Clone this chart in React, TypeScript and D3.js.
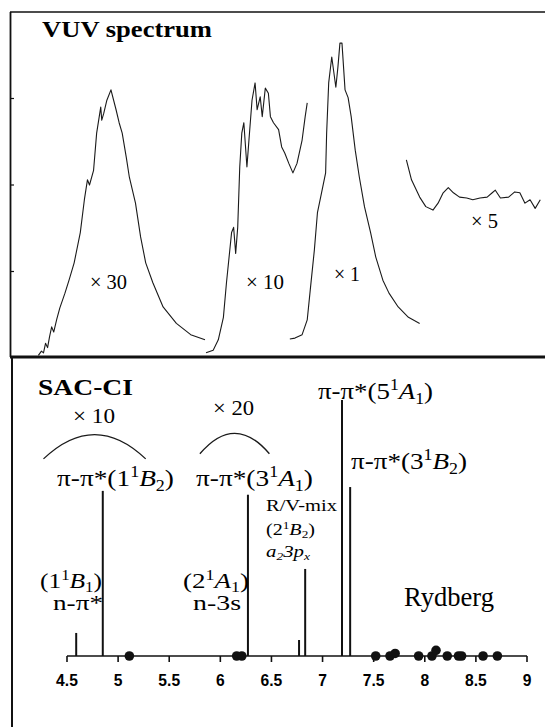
import { scaleLinear, line as d3line, path as d3path } from "d3";

const W = 545;
const H = 727;
const SERIF = "'Liberation Serif', 'Times New Roman', serif";
const SANS = "'Liberation Sans', Arial, sans-serif";

// VUV spectrum segments: [energy eV, relative intensity]
const vuvX30: [number, number][] = [
  [4.22, 0.03], [4.25, 0.08], [4.27, 0.06], [4.29, 0.17], [4.31, 0.12], [4.33, 0.25], [4.35, 0.36],
  [4.37, 0.3], [4.4, 0.45], [4.43, 0.58], [4.48, 0.75], [4.52, 0.9], [4.57, 1.1], [4.63, 1.45],
  [4.67, 1.83], [4.7, 2.06], [4.72, 2.0], [4.76, 2.17], [4.79, 2.6], [4.83, 2.9], [4.84, 2.75],
  [4.86, 2.83], [4.89, 2.98], [4.93, 3.1], [4.98, 2.87], [5.01, 2.72], [5.04, 2.6], [5.08, 2.32],
  [5.11, 2.09], [5.17, 1.79], [5.22, 1.4], [5.27, 1.1], [5.34, 0.87], [5.44, 0.59], [5.57, 0.4],
  [5.71, 0.27], [5.85, 0.21],
];
const vuvX10: [number, number][] = [
  [5.86, 0.06], [5.93, 0.09], [5.98, 0.21], [6.03, 0.47], [6.06, 0.87], [6.11, 1.45], [6.13, 1.51],
  [6.15, 1.21], [6.17, 1.51], [6.19, 2.21], [6.21, 2.6], [6.23, 2.72], [6.26, 2.21], [6.28, 2.52],
  [6.31, 2.98], [6.34, 3.18], [6.36, 2.87], [6.39, 3.02], [6.41, 2.79], [6.44, 3.12], [6.47, 3.06],
  [6.49, 2.79], [6.52, 2.72], [6.57, 2.64], [6.6, 2.44], [6.63, 2.37], [6.67, 2.25], [6.71, 2.14],
  [6.75, 2.25], [6.8, 2.52], [6.83, 2.79], [6.85, 2.95],
];
const vuvX1: [number, number][] = [
  [6.68, 0.22], [6.73, 0.23], [6.8, 0.27], [6.85, 0.44], [6.88, 0.79], [6.92, 1.25], [6.95, 1.68],
  [6.99, 1.91], [7.03, 2.14], [7.04, 2.6], [7.06, 3.18], [7.09, 3.48], [7.13, 3.13], [7.15, 3.36],
  [7.17, 3.64], [7.19, 3.64], [7.22, 3.1], [7.25, 3.01], [7.28, 2.79], [7.32, 2.4], [7.36, 2.09],
  [7.41, 1.75], [7.47, 1.45], [7.52, 1.17], [7.59, 0.9], [7.65, 0.75], [7.74, 0.59], [7.84, 0.47],
  [7.95, 0.4],
];
const vuvX5: [number, number][] = [
  [7.82, 2.29], [7.87, 2.06], [7.95, 1.86], [8.01, 1.75], [8.08, 1.71], [8.13, 1.79], [8.18, 1.91],
  [8.23, 1.97], [8.28, 1.91], [8.34, 1.86], [8.41, 1.85], [8.47, 1.83], [8.54, 1.85], [8.61, 1.86],
  [8.66, 1.91], [8.69, 1.94], [8.74, 1.85], [8.82, 1.86], [8.88, 1.92], [8.93, 1.91], [8.98, 1.79],
  [9.03, 1.83], [9.08, 1.73], [9.13, 1.83],
];
const vuvTicks = [1, 2, 3];

// SAC-CI excitation energies and relative strengths
const stickE = [4.59, 4.85, 6.27, 6.77, 6.83, 7.19, 7.27];
const stickF = [0.09, 0.645, 0.63, 0.0625, 0.34, 1.0, 0.66];
const rydE = [5.11, 6.16, 6.21, 7.52, 7.66, 7.71, 7.94, 8.07, 8.11, 8.22, 8.33, 8.36, 8.57, 8.71];
const rydF = [0, 0, 0, 0, 0, 0.01, 0, 0, 0.022, 0, 0, 0, 0, 0];
const xTicks = [4.5, 5, 5.5, 6, 6.5, 7, 7.5, 8, 8.5, 9];

export default function App() {
  const x = scaleLinear().domain([4.5, 9]).range([67, 527]);
  const yTop = scaleLinear().domain([0, 4]).range([358, 12]);
  const yBot = scaleLinear().domain([0, 1]).range([656, 400]);

  const spec = d3line<[number, number]>()
    .x((d) => x(d[0]))
    .y((d) => yTop(d[1]));

  // envelope arcs over the scaled bands
  const arc = (e0: number, e1: number, base: number, peak: number) => {
    const p = d3path();
    const x0 = x(e0);
    const x1 = x(e1);
    const yb = yBot(base);
    const yp = yBot(peak);
    p.moveTo(x0, yb);
    p.quadraticCurveTo((x0 + x1) / 2, 2 * yp - yb, x1, yb);
    return p.toString();
  };

  const stateLabel = (
    px: number, py: number, w: number, size: number, pre: string, n: string, sym: string, sub: string
  ) => (
    <text x={px} y={py} fontSize={size} fontFamily={SERIF} textLength={w} lengthAdjust="spacingAndGlyphs">
      {pre}({n}
      <tspan dy={-size * 0.36} fontSize={size * 0.66}>1</tspan>
      <tspan dy={size * 0.36} fontStyle="italic">{sym}</tspan>
      <tspan dy={size * 0.2} fontSize={size * 0.66}>{sub}</tspan>
      <tspan dy={-size * 0.2}>)</tspan>
    </text>
  );

  const plain = (px: number, py: number, w: number, size: number, s: string, bold = false) => (
    <text x={px} y={py} fontSize={size} fontFamily={SERIF} fontWeight={bold ? "bold" : "normal"}
      textLength={w} lengthAdjust="spacingAndGlyphs">
      {s}
    </text>
  );

  return (
    <svg width={W} height={H} viewBox={`0 0 ${W} ${H}`}
      style={{ position: "absolute", left: 0, top: 0, background: "#fff" }}>
      {/* frames */}
      <line x1={10} x2={W} y1={12} y2={12} stroke="#111" strokeWidth={1.5} />
      <line x1={10.5} x2={10.5} y1={12} y2={357} stroke="#111" strokeWidth={1.8} />
      <line x1={10} x2={W} y1={357} y2={357} stroke="#111" strokeWidth={3} />
      <line x1={12} x2={12} y1={357} y2={H} stroke="#111" strokeWidth={2} />
      {vuvTicks.map((t) => (
        <line key={t} x1={10} x2={14} y1={yTop(t)} y2={yTop(t)} stroke="#111" strokeWidth={1.2} />
      ))}

      {/* VUV spectrum */}
      {[vuvX30, vuvX10, vuvX1, vuvX5].map((seg, i) => (
        <path key={i} d={spec(seg) ?? ""} fill="none" stroke="#1a1a1a" strokeWidth={1.1} strokeLinejoin="round" />
      ))}
      {plain(42, 37, 170, 23, "VUV spectrum", true)}
      {plain(90, 289, 37, 21, "× 30")}
      {plain(246, 289, 38, 21, "× 10")}
      {plain(334, 281, 26, 21, "× 1")}
      {plain(471, 228, 27, 21, "× 5")}

      {/* SAC-CI */}
      {plain(38, 395, 95, 23, "SAC-CI", true)}
      {plain(73, 423, 42, 21, "× 10")}
      {plain(213, 415, 41, 21, "× 20")}
      <path d={arc(4.27, 5.27, 0.77, 0.865)} fill="none" stroke="#1a1a1a" strokeWidth={1.3} />
      <path d={arc(5.8, 6.48, 0.79, 0.87)} fill="none" stroke="#1a1a1a" strokeWidth={1.3} />

      {stickE.map((e, i) => (
        <line key={i} x1={x(e)} x2={x(e)} y1={yBot(0)} y2={yBot(stickF[i])} stroke="#111" strokeWidth={2} />
      ))}
      <line x1={x(4.5)} x2={x(9)} y1={yBot(0)} y2={yBot(0)} stroke="#111" strokeWidth={1.6} />
      {rydE.map((e, i) => (
        <circle key={i} cx={x(e)} cy={yBot(rydF[i])} r={4.8} fill="#111" />
      ))}
      {xTicks.map((t) => (
        <g key={t}>
          <line x1={x(t)} x2={x(t)} y1={yBot(0)} y2={yBot(0) + 6} stroke="#111" strokeWidth={1.6} />
          <text x={x(t)} y={686} textAnchor="middle" fontSize={17} fontWeight="bold" fontFamily={SANS}
            transform={`translate(${x(t)},0) scale(0.92,1) translate(${-x(t)},0)`}>
            {t}
          </text>
        </g>
      ))}

      {stateLabel(57, 486, 117, 24, "π-π*", "1", "B", "2")}
      {stateLabel(196, 486, 117, 24, "π-π*", "3", "A", "1")}
      {stateLabel(318, 399, 115, 24, "π-π*", "5", "A", "1")}
      {stateLabel(351, 469, 116, 24, "π-π*", "3", "B", "2")}
      {stateLabel(40, 588, 62, 22, "", "1", "B", "1")}
      {stateLabel(183, 588, 66, 22, "", "2", "A", "1")}
      {plain(53, 610, 50, 22, "n-π*")}
      {plain(193, 610, 48, 22, "n-3s")}

      {plain(266, 511, 71, 17, "R/V-mix")}
      {stateLabel(266, 535, 49, 17, "", "2", "B", "2")}
      <text x={266} y={557} fontSize={17} fontFamily={SERIF} fontStyle="italic" textLength={44} lengthAdjust="spacingAndGlyphs">
        a<tspan dy={3} fontSize={11}>2</tspan><tspan dy={-3}>3p</tspan><tspan dy={3} fontSize={11}>x</tspan>
      </text>
      {plain(404, 606, 90, 27, "Rydberg")}
    </svg>
  );
}
